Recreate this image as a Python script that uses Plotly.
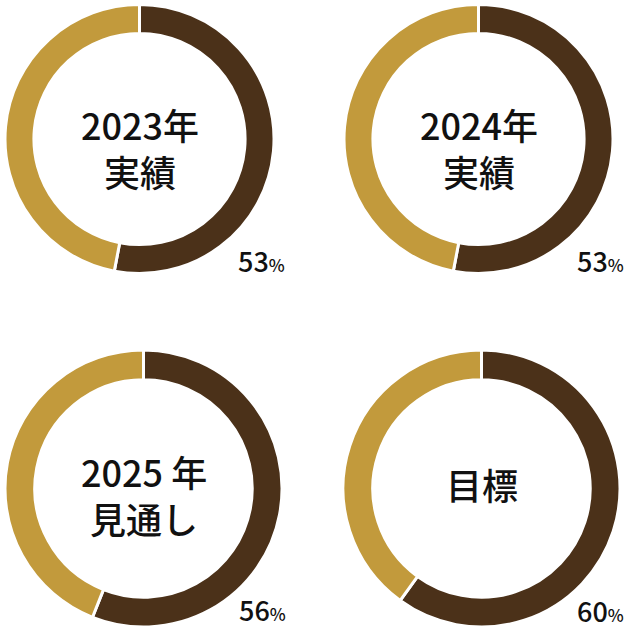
import plotly.graph_objects as go

# data
titles = ["2023年<br>実績", "2024年<br>実績", "2025 年<br>見通し", "目標"]
shares = [53, 53, 56, 60]
labels = ["達成", "残り"]

W, H = 626, 632
DARK = "#4b3119"
GOLD = "#c29a3c"
FONT = "Noto Sans CJK JP, Noto Sans, sans-serif"

# pixel boxes of each donut (x0, x1, y0, y1 from the top)
boxes = [(5, 274, 4, 274), (344, 613, 4, 274), (5, 282, 350, 627), (343, 620, 350, 627)]
text_dy = [8, 8, 6, -5]
pct_pos = [(287, 282), (626, 282), (288, 631), (626, 632)]

fig = go.Figure()
for i, (t, s) in enumerate(zip(titles, shares)):
    x0, x1, y0, y1 = boxes[i]
    fig.add_trace(go.Pie(
        labels=labels,
        values=[s, 100 - s],
        hole=0.785,
        sort=False,
        direction="clockwise",
        rotation=0,
        textinfo="none",
        hoverinfo="label+percent",
        marker=dict(colors=[DARK, GOLD], line=dict(color="white", width=3)),
        domain=dict(x=[x0 / W, x1 / W], y=[1 - y1 / H, 1 - y0 / H]),
        showlegend=False,
    ))
    cx = (x0 + x1) / 2 / W
    cy = 1 - ((y0 + y1) / 2 + text_dy[i]) / H
    fig.add_annotation(
        x=cx, y=cy, xref="paper", yref="paper", showarrow=False,
        xanchor="center", yanchor="middle",
        text=t, align="center",
        font=dict(family=FONT, size=36, color="#111111", weight=500),
    )
    px_, py_ = pct_pos[i]
    fig.add_annotation(
        x=px_ / W, y=1 - py_ / H, xref="paper", yref="paper",
        xanchor="right", yanchor="bottom", showarrow=False,
        text="%d<span style='font-size:17px'>%%</span>" % s,
        font=dict(family=FONT, size=27, color="#111111", weight=500),
    )

fig.update_layout(
    width=W, height=H,
    margin=dict(l=0, r=0, t=0, b=0),
    paper_bgcolor="white",
    plot_bgcolor="white",
)

fig.write_html("out.html", config={"displayModeBar": False},
               post_script="document.body.style.margin='0';")
